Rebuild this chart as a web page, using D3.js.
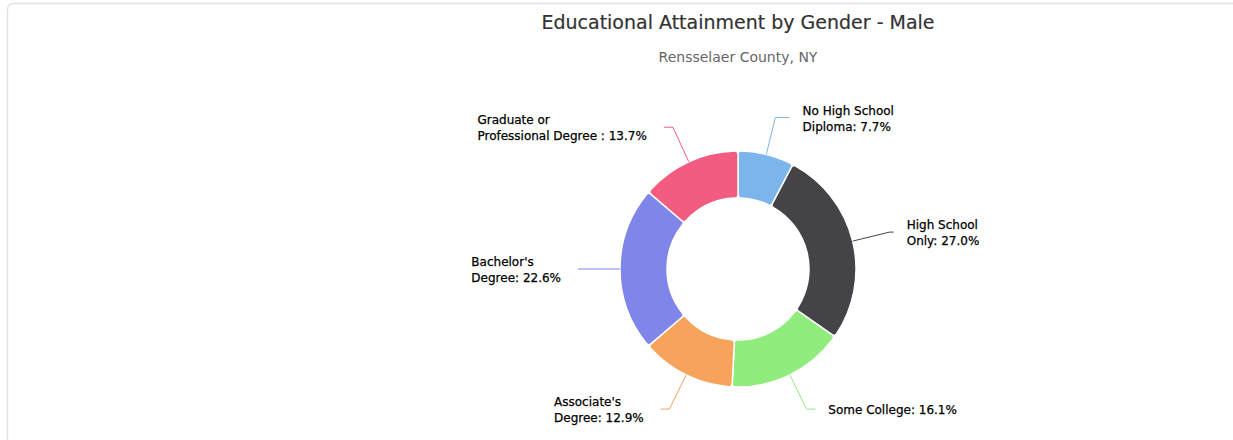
<!DOCTYPE html>
<html>
<head>
<meta charset="utf-8">
<script src="https://cdn.jsdelivr.net/npm/d3@7"></script>
<style>
  html, body { margin: 0; padding: 0; background: #fff; }
  svg { display: block; }
</style>
</head>
<body>
<svg id="chart" width="1233" height="440"></svg>
<script>
// ---- data ----
const titleText = "Educational Attainment by Gender - Male";
const subtitleText = "Rensselaer County, NY";
const categories = ["No High School Diploma", "High School Only", "Some College", "Associate's Degree", "Bachelor's Degree", "Graduate or Professional Degree "];
const values = [7.7, 27.0, 16.1, 12.9, 22.6, 13.7];
const colors = ["#7cb5ec", "#434348", "#90ed7d", "#f7a35c", "#8085e9", "#f15c80"];
const firstLineWords = [3, 2, 3, 1, 1, 2];

// ---- layout ----
const W = 1233, H = 440;
const cx = 738, cy = 269;
const rOuter = 118, rInner = 71;
const rBreak = 156, rLabel = 160;

const svg = d3.select("#chart");

// border
svg.append("rect")
  .attr("x", 7.5).attr("y", 3.5)
  .attr("width", 1260).attr("height", 460)
  .attr("rx", 6).attr("ry", 6)
  .attr("fill", "#fff")
  .attr("stroke", "#e3e3e3")
  .attr("stroke-width", 1.5);

// title
svg.append("text")
  .attr("x", cx).attr("y", 29)
  .attr("text-anchor", "middle")
  .attr("font-family", "DejaVu Sans, sans-serif")
  .attr("font-size", 19)
  .attr("fill", "#333333")
  .attr("stroke", "#333333")
  .attr("stroke-width", 0.2)
  .text(titleText);

svg.append("text")
  .attr("x", cx).attr("y", 62)
  .attr("text-anchor", "middle")
  .attr("font-family", "DejaVu Sans, sans-serif")
  .attr("font-size", 14)
  .attr("fill", "#666666")
  .text(subtitleText);

const data = categories.map((c, i) => ({ name: c, value: values[i], color: colors[i], split: firstLineWords[i] }));

const pie = d3.pie().sort(null).value(d => d.value);
const arcs = pie(data);

const arc = d3.arc()
  .innerRadius(rInner)
  .outerRadius(rOuter)
  .cornerRadius(3);

const g = svg.append("g").attr("transform", `translate(${cx},${cy})`);

g.selectAll("path.slice")
  .data(arcs)
  .enter().append("path")
  .attr("class", "slice")
  .attr("d", arc)
  .attr("fill", d => d.data.color)
  .attr("stroke", "#ffffff")
  .attr("stroke-width", 1.5)
  .attr("stroke-linejoin", "round");

// labels and connectors
arcs.forEach(a => {
  const mid = (a.startAngle + a.endAngle) / 2;
  const sx = Math.sin(mid), sy = -Math.cos(mid);
  const right = sx >= 0;
  const p0 = [sx * rOuter, sy * rOuter];
  const p1 = [sx * rBreak, sy * rBreak];
  const dy = p1[1];
  let ex = Math.sqrt(Math.max(0, rLabel * rLabel - dy * dy));
  ex = right ? ex : -ex;
  if (right) ex = Math.max(ex, p1[0] + 3); else ex = Math.min(ex, p1[0] - 3);

  g.append("path")
    .attr("d", `M${p0[0]},${p0[1]} L${p1[0]},${p1[1]} L${ex},${p1[1]}`)
    .attr("fill", "none")
    .attr("stroke", a.data.color)
    .attr("stroke-width", 1);

  const valStr = `: ${a.data.value.toFixed(1)}%`;
  const tokens = a.data.name.split(" ");
  let lines;
  if (a.data.split >= tokens.filter(t => t.length).length) {
    lines = [a.data.name + valStr];
  } else {
    lines = [tokens.slice(0, a.data.split).join(" "), tokens.slice(a.data.split).join(" ") + valStr];
  }

  const lh = 16;
  const text = g.append("text")
    .attr("font-family", "DejaVu Sans, sans-serif")
    .attr("font-size", 12)
    .attr("fill", "#000000")
    .attr("stroke", "#000000")
    .attr("stroke-width", 0.25);
  const y0 = p1[1] - (lines.length - 1) * lh / 2 + 5;
  lines.forEach((ln, i) => {
    text.append("tspan").attr("x", 0).attr("y", y0 + i * lh).text(ln);
  });
  if (right) {
    text.selectAll("tspan").attr("x", ex + 13);
  } else {
    const w = text.node().getBBox().width;
    text.selectAll("tspan").attr("x", ex - 17 - w);
  }
});
</script>
</body>
</html>
